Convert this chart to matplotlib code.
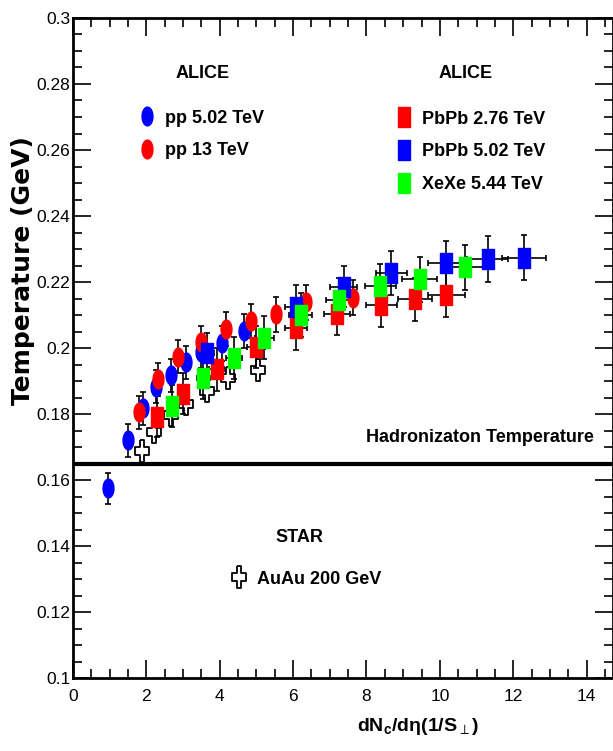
import numpy as np
import matplotlib
matplotlib.use("Agg")
import matplotlib.pyplot as plt
from matplotlib.path import Path
from matplotlib.lines import Line2D
from matplotlib.ticker import MultipleLocator, FuncFormatter

plt.rcParams['font.family'] = ['Liberation Sans', 'DejaVu Sans']

# pp 5.02 TeV
pp502_x = [0.95, 1.51, 1.92, 2.26, 2.66, 3.08, 3.50, 4.05, 4.67]
pp502_y = [0.1575, 0.1721, 0.1817, 0.1883, 0.1918, 0.1957, 0.1989, 0.2014, 0.2051]
pp502_ey = [0.0047, 0.0050, 0.0050, 0.0050, 0.0050, 0.0050, 0.0050, 0.0052, 0.0052]

# pp 13 TeV
pp13_x = [1.80, 2.32, 2.87, 3.48, 4.17, 4.84, 5.52, 6.35, 7.62]
pp13_y = [0.1805, 0.1906, 0.1973, 0.2018, 0.2057, 0.2081, 0.2102, 0.2139, 0.2152]
pp13_ey = [0.0050, 0.0050, 0.0050, 0.0050, 0.0052, 0.0052, 0.0052, 0.0053, 0.0053]

# PbPb 2.76 TeV
pb276_x = [2.28, 3.00, 3.92, 4.99, 6.09, 7.20, 8.40, 9.32, 10.18]
pb276_y = [0.1792, 0.1862, 0.1935, 0.2004, 0.2060, 0.2103, 0.2130, 0.2147, 0.2161]
pb276_ex = [0.12, 0.15, 0.20, 0.25, 0.30, 0.36, 0.42, 0.47, 0.51]
pb276_ey = [0.0062, 0.0063, 0.0064, 0.0064, 0.0065, 0.0065, 0.0066, 0.0066, 0.0066]

# PbPb 5.02 TeV
pb502_x = [3.66, 6.08, 7.38, 8.68, 10.18, 11.30, 12.29]
pb502_y = [0.1984, 0.2125, 0.2186, 0.2228, 0.2257, 0.2270, 0.2274]
pb502_ex = [0.18, 0.30, 0.37, 0.43, 0.51, 0.55, 0.60]
pb502_ey = [0.0062, 0.0065, 0.0063, 0.0067, 0.0068, 0.0070, 0.0069]

# XeXe 5.44 TeV
xe_x = [2.69, 3.55, 4.40, 5.21, 6.21, 7.25, 8.38, 9.45, 10.68]
xe_y = [0.1825, 0.1908, 0.1969, 0.2031, 0.2100, 0.2145, 0.2188, 0.2208, 0.2244]
xe_ex = [0.14, 0.18, 0.22, 0.26, 0.31, 0.36, 0.42, 0.47, 0.54]
xe_ey = [0.0063, 0.0064, 0.0064, 0.0065, 0.0066, 0.0066, 0.0067, 0.0068, 0.0068]

# STAR AuAu 200 GeV
star_x = [1.87, 2.20, 2.67, 3.07, 3.65, 4.22, 5.05]
star_y = [0.1688, 0.1745, 0.1797, 0.1830, 0.1870, 0.1908, 0.1933]

t_hadr = 0.165

# squeezed marker shapes (the original is horizontally compressed)
th = np.linspace(0, 2 * np.pi, 60)
ellipse = Path(np.column_stack([0.29 * np.cos(th), 0.5 * np.sin(th)]))
rect = Path([(-0.3, -0.5), (0.3, -0.5), (0.3, 0.5), (-0.3, 0.5), (-0.3, -0.5)],
            [Path.MOVETO, Path.LINETO, Path.LINETO, Path.LINETO, Path.CLOSEPOLY])
a = 0.17
pl = [(-a, 0.5), (a, 0.5), (a, a), (0.5, a), (0.5, -a), (a, -a), (a, -0.5),
      (-a, -0.5), (-a, -a), (-0.5, -a), (-0.5, a), (-a, a), (-a, 0.5)]
cross = Path([(0.6 * u, v) for u, v in pl])

fig = plt.figure(figsize=(6.13, 7.51), dpi=100)
ax = fig.add_axes([73 / 613, 73 / 751, 540 / 613, 660 / 751])

ebkw = dict(ls='none', ecolor='black', elinewidth=1.2, capsize=2.5, capthick=1.2)
ax.errorbar(pp502_x, pp502_y, yerr=pp502_ey, marker=ellipse, ms=13.5,
            mfc='blue', mec='blue', **ebkw)
ax.errorbar(pp13_x, pp13_y, yerr=pp13_ey, marker=ellipse, ms=13.5,
            mfc='red', mec='red', **ebkw)
ax.errorbar(pb276_x, pb276_y, xerr=pb276_ex, yerr=pb276_ey, marker=rect, ms=13.7,
            mfc='red', mec='red', **ebkw)
ax.errorbar(pb502_x, pb502_y, xerr=pb502_ex, yerr=pb502_ey, marker=rect, ms=13.7,
            mfc='blue', mec='blue', **ebkw)
ax.errorbar(xe_x, xe_y, xerr=xe_ex, yerr=xe_ey, marker=rect, ms=13.7,
            mfc='lime', mec='lime', **ebkw)
ax.plot(star_x, star_y, ls='none', marker=cross, ms=16.5, mfc='none',
        mec='black', mew=1.3)

ax.axhline(t_hadr, color='black', lw=3)

ax.set_xlim(0, 14.72)
ax.set_ylim(0.1, 0.3)
ax.xaxis.set_major_locator(MultipleLocator(2))
ax.xaxis.set_minor_locator(MultipleLocator(0.5))
ax.yaxis.set_major_locator(MultipleLocator(0.02))
ax.yaxis.set_minor_locator(MultipleLocator(0.005))
ax.xaxis.set_major_formatter(FuncFormatter(lambda v, p: f'{v:g}'))
ax.yaxis.set_major_formatter(FuncFormatter(lambda v, p: f'{round(v, 3):g}'))
ax.tick_params(which='both', direction='in', top=True, right=True, width=1.2,
               labelsize=12.5)
ax.tick_params(which='major', length=13)
ax.tick_params(which='minor', length=6.5)
ax.tick_params(axis='x', pad=8)
ax.tick_params(axis='y', pad=2)
for s in ax.spines.values():
    s.set_linewidth(2)

ax.set_ylabel('Temperature (GeV)', family='DejaVu Sans', fontweight='bold',
              fontsize=18)
ax.yaxis.set_label_coords(-0.070, 0.618)
ax.set_xlabel(r'dN$_\mathregular{c}$/d$\mathregular{\eta}$(1/S$_\perp$)',
              fontweight='bold', fontsize=14)
ax.xaxis.set_label_coords(0.639, -0.058)

ax.text(7.98, 0.173, 'Hadronizaton Temperature', fontsize=13,
        fontweight='bold', va='center', ha='left')

# legend headings
hkw = dict(fontsize=13, fontweight='bold', ha='center', va='center',
           transform=fig.transFigure)
fig.text(202.5 / 613, 1 - 73 / 751, 'ALICE', **hkw)
fig.text(466 / 613, 1 - 73 / 751, 'ALICE', **hkw)
fig.text(299 / 613, 1 - 537 / 751, 'STAR', **hkw)

lkw = dict(frameon=False, borderpad=0, borderaxespad=0, handlelength=0.8,
           handletextpad=0.62, labelspacing=0.87,
           prop=dict(weight='bold', size=13),
           bbox_transform=fig.transFigure, loc='upper left')

h1 = [Line2D([], [], ls='none', marker=ellipse, ms=13.5, mfc=c, mec=c)
      for c in ['blue', 'red']]
leg1 = ax.legend(h1, ['pp 5.02 TeV', 'pp 13 TeV'],
                 bbox_to_anchor=(139.8 / 613, 1 - 109.6 / 751), **lkw)
ax.add_artist(leg1)

h2 = [Line2D([], [], ls='none', marker=rect, ms=13.7, mfc=c, mec=c)
      for c in ['red', 'blue', 'lime']]
leg2 = ax.legend(h2, ['PbPb 2.76 TeV', 'PbPb 5.02 TeV', 'XeXe 5.44 TeV'],
                 bbox_to_anchor=(396.8 / 613, 1 - 110.6 / 751), **lkw)
ax.add_artist(leg2)

h3 = [Line2D([], [], ls='none', marker=cross, ms=16.5, mfc='none',
             mec='black', mew=1.3)]
leg3 = ax.legend(h3, ['AuAu 200 GeV'],
                 bbox_to_anchor=(231.8 / 613, 1 - 570.6 / 751), **lkw)

fig.savefig('out.png', dpi=100)
